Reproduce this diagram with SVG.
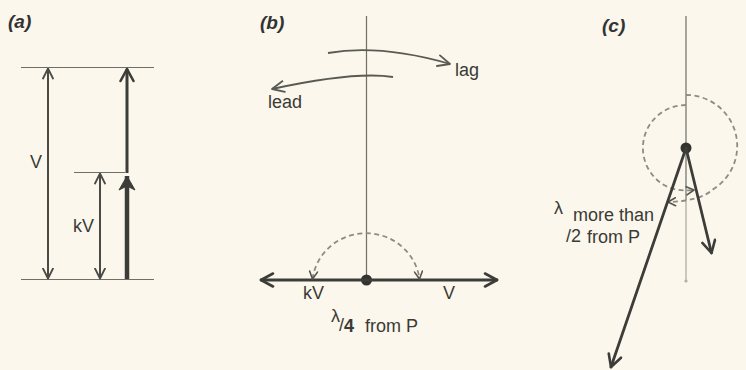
<svg xmlns="http://www.w3.org/2000/svg" width="746" height="370" viewBox="0 0 746 370">
<style>
.bg{fill:#fbf7ec}
.thin{stroke:#6f6f6a;stroke-width:1.2;fill:none}
.dim{stroke:#4a4a46;stroke-width:2;fill:none}
.bold{stroke:#3c3c38;stroke-width:2.8;fill:none;stroke-linecap:round}
.dash{stroke:#8c8c86;stroke-width:1.8;fill:none;stroke-dasharray:5 3.5}
.curve{stroke:#5a5a55;stroke-width:1.8;fill:none}
.dot{fill:#333330}
text{font-family:"Liberation Sans",Arial,sans-serif;fill:#3a3a36;font-size:18px}
.lbl{font-weight:bold;font-style:italic;font-size:19px;fill:#333}
</style>
<defs>
<marker id="mThin" viewBox="0 0 12 12" markerWidth="12" markerHeight="12" refX="11" refY="6" orient="auto-start-reverse" markerUnits="userSpaceOnUse">
<path d="M1,1 L11,6 L1,11" fill="none" stroke="#4a4a46" stroke-width="1.8" stroke-linejoin="round" stroke-linecap="round"/>
</marker>
<marker id="mBold" viewBox="0 0 16 16" markerWidth="16" markerHeight="16" refX="14" refY="8" orient="auto-start-reverse" markerUnits="userSpaceOnUse">
<path d="M2,1.5 L14,8 L2,14.5" fill="none" stroke="#3c3c38" stroke-width="2.6" stroke-linejoin="round" stroke-linecap="round"/>
</marker>
<marker id="mSolid" viewBox="0 0 16 18" markerWidth="16" markerHeight="18" refX="15" refY="9" orient="auto" markerUnits="userSpaceOnUse">
<path d="M15,9 L1,1 L5,9 L1,17 Z" fill="#3c3c38" stroke="#3c3c38" stroke-width="1" stroke-linejoin="round"/>
</marker>
<marker id="mSmall" viewBox="0 0 10 10" markerWidth="10" markerHeight="10" refX="8.5" refY="5" orient="auto-start-reverse" markerUnits="userSpaceOnUse">
<path d="M1,1 L8.5,5 L1,9" fill="none" stroke="#555550" stroke-width="1.6" stroke-linejoin="round" stroke-linecap="round"/>
</marker>
<marker id="mCurve" viewBox="0 0 14 14" markerWidth="14" markerHeight="14" refX="13" refY="7" orient="auto" markerUnits="userSpaceOnUse">
<path d="M1,1.5 L13,7 L1,12.5" fill="none" stroke="#5a5a55" stroke-width="1.8" stroke-linejoin="round" stroke-linecap="round"/>
</marker>
</defs>
<rect class="bg" x="0" y="0" width="746" height="370"/>

<g id="panel-a">
<text class="lbl" x="8" y="28">(a)</text>
<line class="thin" x1="21" y1="67.5" x2="154" y2="67.5"/>
<line class="thin" x1="21" y1="279.5" x2="154" y2="279.5"/>
<line class="thin" x1="74" y1="172.5" x2="125" y2="172.5"/>
<text x="30" y="168">V</text>
<text x="73" y="232">kV</text>
</g>

<g id="panel-b">
<text class="lbl" x="260" y="29">(b)</text>
<line class="thin" x1="366.5" y1="16" x2="366.5" y2="280"/>
<text x="455" y="76">lag</text>
<text x="268" y="108">lead</text>
<circle class="dot" cx="366.5" cy="280" r="5.5"/>
<text x="303" y="299">kV</text>
<text x="443" y="299">V</text>
<text x="331" y="322" font-size="14">λ</text>
<text x="339" y="331" font-size="13">/</text>
<text x="344" y="332" font-size="16" font-weight="bold">4</text>
<text x="365" y="332">from P</text>
</g>

<g id="panel-c">
<text class="lbl" x="602" y="32">(c)</text>
<line class="thin" x1="686" y1="16" x2="686" y2="200"/>
<line x1="686" y1="200" x2="686" y2="280" stroke="#a8a8a2" stroke-width="1.2"/>
<circle cx="686" cy="281" r="1.6" fill="#b0b0aa"/>
<circle class="dot" cx="686" cy="148" r="5.5"/>
<text x="554" y="214" font-size="15">λ</text>
<text x="566" y="242" font-size="16">/2</text>
<text x="573" y="221" font-size="16">more than</text>
<text x="587" y="243" font-size="17">from P</text>
</g>

<g id="connectors">
<!-- panel a -->
<line class="dim" x1="48" y1="68.5" x2="48" y2="278.5" marker-start="url(#mThin)" marker-end="url(#mThin)"/>
<line class="dim" x1="100" y1="173.5" x2="100" y2="278.5" marker-start="url(#mThin)" marker-end="url(#mThin)"/>
<line x1="127" y1="173" x2="127" y2="69" stroke="#3c3c38" stroke-width="3" marker-end="url(#mBold)"/>
<line x1="127" y1="279" x2="127" y2="176" stroke="#3c3c38" stroke-width="4.5" marker-end="url(#mSolid)"/>
<!-- panel b -->
<path class="curve" d="M328,53 Q380,44 450,64" marker-end="url(#mCurve)"/>
<path class="curve" d="M393,77 Q355,71 272,89" marker-end="url(#mCurve)"/>
<line class="bold" x1="261" y1="280" x2="497" y2="280" marker-start="url(#mBold)" marker-end="url(#mBold)"/>
<path class="dash" d="M312.5,279 A54,53 0 0 1 419.5,279" marker-start="url(#mSmall)" marker-end="url(#mSmall)"/>
<!-- panel c -->
<path class="dash" d="M686,105 A43,43 0 0 0 664,185 Q676,192 694,190" marker-end="url(#mSmall)"/>
<path class="dash" d="M686,95 A51,51 0 0 1 712,190 Q700,201 668,202" marker-end="url(#mSmall)"/>
<line class="bold" x1="686" y1="148" x2="711.5" y2="253" marker-end="url(#mBold)"/>
<line class="bold" x1="686" y1="148" x2="611" y2="367" marker-end="url(#mBold)"/>
</g>
</svg>
